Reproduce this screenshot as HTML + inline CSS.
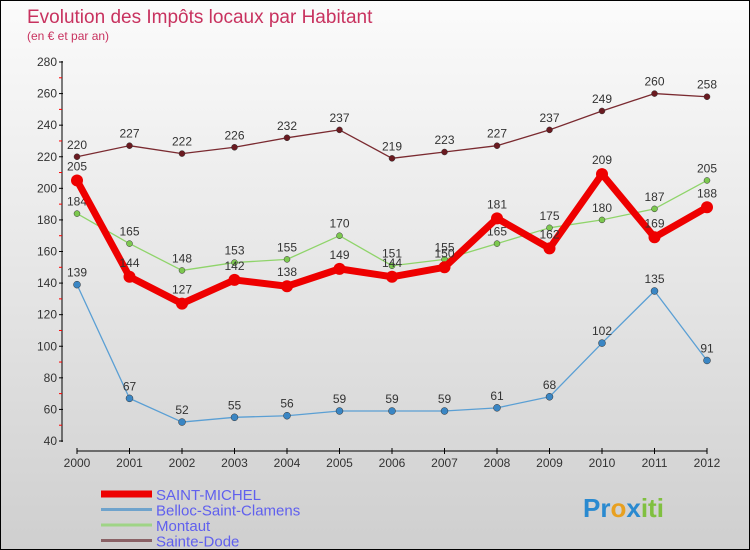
<!DOCTYPE html>
<html><head><meta charset="utf-8"><style>
body{margin:0;}
#c{width:750px;height:550px;position:relative;box-sizing:border-box;border:1px solid #000;background:linear-gradient(#fbfbfb,#e6e6e6 50%,#cfcfcf);font-family:"Liberation Sans","DejaVu Sans",sans-serif;overflow:hidden}
svg{position:absolute;left:0;top:0}
</style></head><body>
<div id="c">
<svg id="s" width="750" height="550">
<text x="26" y="22" font-size="19" fill="#c8325f">Evolution des Impôts locaux par Habitant</text>
<text x="26" y="39" font-size="12" fill="#c8325f">(en € et par an)</text>
</svg>
</div>
<script>
const years=[2000,2001,2002,2003,2004,2005,2006,2007,2008,2009,2010,2011,2012];
const yTicks=[40,60,80,100,120,140,160,180,200,220,240,260,280];
const saintMichel=[205,144,127,142,138,149,144,150,181,162,209,169,188];
const belloc=[139,67,52,55,56,59,59,59,61,68,102,135,91];
const montaut=[184,165,148,153,155,170,151,155,165,175,180,187,205];
const sainteDode=[220,227,222,226,232,237,219,223,227,237,249,260,258];
const NS="http://www.w3.org/2000/svg",svg=document.getElementById('s');
const xS=i=>76+i*(706-76)/(years.length-1);
const yS=v=>440-(v-40)*(440-61)/240;
function mk(t,a,p){const e=document.createElementNS(NS,t);for(const k in a)e.setAttribute(k,a[k]);(p||svg).appendChild(e);return e;}
// axes
let ya=mk('line',{x1:61,y1:60,x2:61,y2:441,stroke:'#000','stroke-width':1});


yTicks.forEach((v,i)=>{
 mk('line',{x1:58,x2:62,y1:yS(v),y2:yS(v),stroke:'#000'});
 if(i<yTicks.length-1){let m=mk('line',{x1:58,x2:61,y1:yS(v+10),y2:yS(v+10),stroke:'#f00'});}
 let t=mk('text',{x:56,y:yS(v)+4,'font-size':12,fill:'#333','text-anchor':'end'});t.textContent=v;
 
 
});
let xa=mk('line',{x1:76,y1:450,x2:706,y2:450,stroke:'#000'});


years.forEach((y,i)=>{
 mk('line',{x1:xS(i),x2:xS(i),y1:447,y2:453,stroke:'#000'});
 let t=mk('text',{x:xS(i),y:466,'font-size':12,fill:'#333','text-anchor':'middle'});t.textContent=y;
 
 
});
const series=[
 {d:belloc,c:'#5a9fd4',w:1.3,r:3.5,n:'belloc-saint-clamens',pc:'#3a86c4',off:-8},
 {d:montaut,c:'#8fd46a',w:1.3,r:3,n:'montaut',pc:'#7cc84f',off:-8},
 {d:sainteDode,c:'#7a2a30',w:1.3,r:3,n:'sainte-dode',pc:'#6a1a20',off:-8},
 {d:saintMichel,c:'#ee0000',w:7,r:6,n:'saint-michel',pc:'#ee0000',off:-10}
];
series.forEach(s=>{
 let p=mk('polyline',{points:s.d.map((v,i)=>xS(i)+','+yS(v)).join(' '),fill:'none',stroke:s.c,'stroke-width':s.w,'stroke-linejoin':'round'});
 
 
 s.d.forEach((v,i)=>{
  let c=mk('circle',{cx:xS(i),cy:yS(v),r:s.r,fill:s.pc,stroke:s.w>2?'none':'#333','stroke-width':0.5});
  
  
  let t=mk('text',{x:xS(i),y:yS(v)+s.off,'font-size':12,fill:'#333','text-anchor':'middle'});t.textContent=v;
  
  
 });
});
// legend
const leg=[['SAINT-MICHEL','#ee0000',7],['Belloc-Saint-Clamens','#6fa3cc',3],['Montaut','#9fd486',3],['Sainte-Dode','#8a6266',3]];
leg.forEach((l,i)=>{
 let y=493+i*15.5;
 let g=mk('g',{});
 
 
 mk('line',{x1:100,x2:151,y1:y,y2:y,stroke:l[1],'stroke-width':l[2]},g);
 let t=mk('text',{x:155,y:y+6,'font-size':15,fill:'#6060ee'},g);t.textContent=l[0];
});
let lg=mk('text',{x:582,y:516,'font-size':26,'font-weight':'bold',fill:'#f0a020'});


lg.innerHTML='<tspan fill="#2a8ad0">Pr</tspan><tspan fill="#e8a020">o</tspan><tspan fill="#2a8ad0">x</tspan><tspan fill="#80c040">iti</tspan>';
</script>
</body></html>
